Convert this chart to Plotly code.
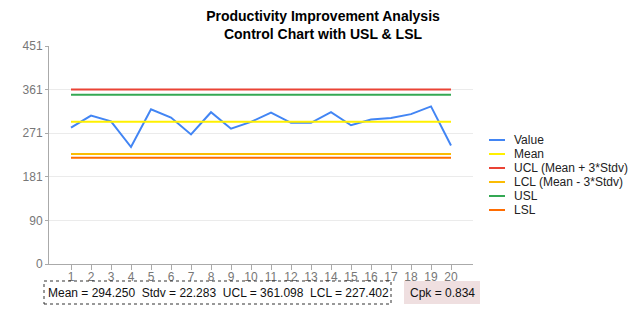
import plotly.graph_objects as go

categories = [str(i) for i in range(1, 21)]
positions = list(range(1, 21))
values = [282, 307, 295, 242, 320, 303, 268, 314, 280, 294,
          313, 292, 292, 314, 287, 299, 302, 310, 326, 245]
mean_val = 294.250
stdv_val = 22.283
ucl_val = 361.098
lcl_val = 227.402
usl_val = 350
lsl_val = 220
cpk_val = 0.834
y_tickvals = [0, 90.2, 180.4, 270.6, 360.8, 451]
y_ticktext = ["0", "90", "181", "271", "361", "451"]

FONT = "Arial, 'Liberation Sans', sans-serif"
W, H = 641, 321
L, R, T, B = 49, 473, 46, 264

def px_x(p):
    return (p - L) / (R - L)

def px_y(p):
    return (B - p) / (B - T)

series = [
    ("Value", values, "#4285F4"),
    ("Mean", [mean_val] * len(positions), "#FFF000"),
    ("UCL (Mean + 3*Stdv)", [ucl_val] * len(positions), "#EA4335"),
    ("LCL (Mean - 3*Stdv)", [lcl_val] * len(positions), "#FBBC04"),
    ("USL", [usl_val] * len(positions), "#34A853"),
    ("LSL", [lsl_val] * len(positions), "#FF6D01"),
]

fig = go.Figure()
for name, ys, color in series:
    fig.add_trace(go.Scatter(x=positions, y=ys, name=name, mode="lines",
                             line=dict(color=color, width=2), hoverinfo="skip",
                             showlegend=False))

fig.update_layout(
    width=W, height=H,
    margin=dict(l=L, r=W - R, t=T, b=H - B),
    paper_bgcolor="white", plot_bgcolor="white",
    font=dict(family=FONT, size=12, color="#222"),
    title=dict(text="<b>Productivity Improvement Analysis<br>Control Chart with USL & LSL</b>",
               x=323 / W, xref="container", xanchor="center",
               y=1 - 21 / H, yref="container", yanchor="top",
               font=dict(family=FONT, size=14, color="#000")),
    showlegend=False,
    xaxis=dict(range=[-0.1, 21.1], tickvals=positions, ticktext=categories,
               showgrid=False, zeroline=False, showline=True, linecolor="#aaa",
               ticks="outside", ticklen=5, tickcolor="#aaa", ticklabelstandoff=-3,
               tickfont=dict(family=FONT, size=12, color="#777")),
    yaxis=dict(range=[0, 451], tickvals=y_tickvals, ticktext=y_ticktext,
               showgrid=True, gridcolor="#ebebeb", zeroline=False,
               showline=True, linecolor="#aaa", ticks="outside", ticklen=3,
               tickcolor="#aaa", tickfont=dict(family=FONT, size=12, color="#777")),
)

# legend drawn manually (compact 14px spacing)
for i, (name, ys, color) in enumerate(series):
    yp = 140 + 14 * i
    fig.add_shape(type="line", xref="paper", yref="paper",
                  x0=px_x(489), x1=px_x(505), y0=px_y(yp), y1=px_y(yp),
                  line=dict(color=color, width=2))
    fig.add_annotation(xref="paper", yref="paper", x=px_x(512), y=px_y(yp),
                       text=name, showarrow=False, xanchor="left", yanchor="middle",
                       font=dict(family=FONT, size=12, color="#222"))

stats_text = ("Mean = %.3f\u00a0\u00a0Stdv = %.3f\u00a0\u00a0UCL = %.3f\u00a0\u00a0LCL = %.3f"
              % (mean_val, stdv_val, ucl_val, lcl_val))
fig.add_shape(type="rect", xref="paper", yref="paper",
              x0=px_x(44), x1=px_x(391), y0=px_y(304), y1=px_y(281),
              line=dict(color="#333", width=1, dash="dot"), fillcolor="white", layer="above")
fig.add_annotation(xref="paper", yref="paper", x=px_x(218), y=px_y(292.5),
                   text=stats_text, showarrow=False, xanchor="center", yanchor="middle",
                   font=dict(family=FONT, size=12, color="#111"))
fig.add_shape(type="rect", xref="paper", yref="paper",
              x0=px_x(404), x1=px_x(480), y0=px_y(304), y1=px_y(281),
              line=dict(width=0), fillcolor="#efdfe0", layer="above")
fig.add_annotation(xref="paper", yref="paper", x=px_x(442), y=px_y(292.5),
                   text="Cpk = %.3f" % cpk_val, showarrow=False, xanchor="center", yanchor="middle",
                   font=dict(family=FONT, size=12, color="#111"))

fig.write_html("out.html")
